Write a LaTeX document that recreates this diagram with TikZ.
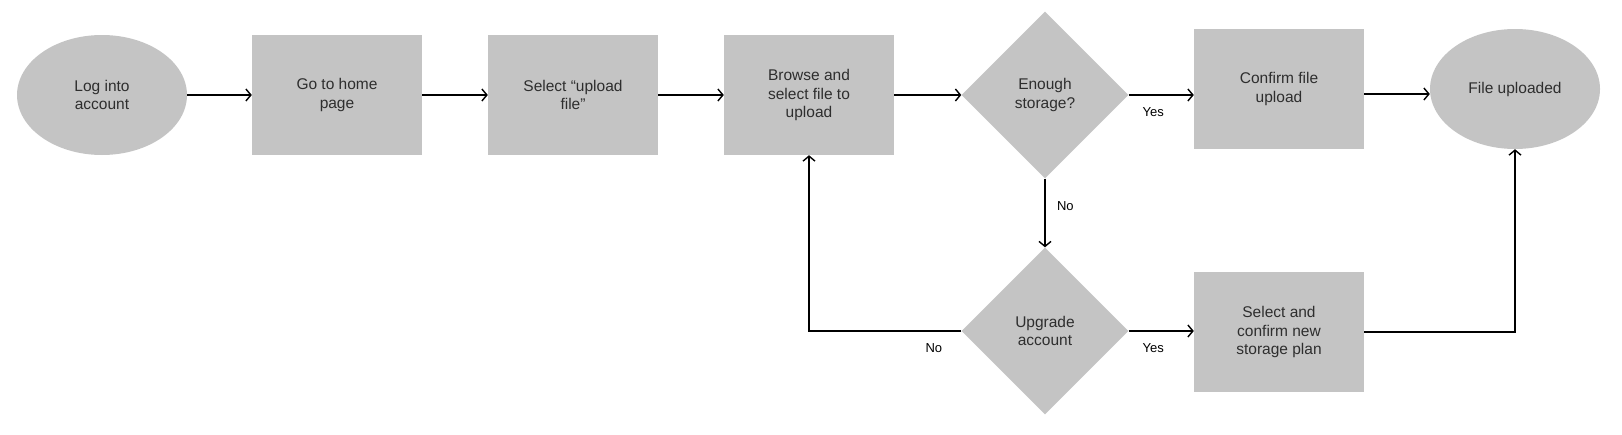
\documentclass[tikz,border=0pt]{standalone}
\usepackage{fontspec}
\setmainfont{Liberation Sans}
\usetikzlibrary{shapes.geometric,arrows.meta}
\definecolor{boxgray}{HTML}{C4C4C4}
\definecolor{txtgray}{HTML}{2E2E2E}

\begin{document}
\begin{tikzpicture}[>={Straight Barb[length=5pt,width=12pt]},x=1pt,y=-1pt,
        every node/.style={text=txtgray,align=center,font=\fontsize{15.5}{18.5}\selectfont},
        stepbox/.style={fill=boxgray,minimum width=170pt,minimum height=120pt,inner sep=0pt},
        endcap/.style={ellipse,fill=boxgray,minimum width=170pt,minimum height=120pt,inner sep=0pt},
        decide/.style={diamond,fill=boxgray,minimum width=167pt,minimum height=167pt,inner sep=0pt},
        lbl/.style={text=black,font=\fontsize{13}{15}\selectfont},
        flow/.style={->,line width=1.4pt}]
        \useasboundingbox (0,0) rectangle (1622,434);
        % top row
        \node[endcap] (login) at (102,95) {Log into\\account};
        \node[stepbox] (home) at (337,95) {Go to home\\page};
        \node[stepbox] (choose) at (573,95) {Select “upload\\file”};
        \node[stepbox] (browse) at (809,95) {Browse and\\select file to\\upload};
        \node[decide] (enough) at (1045,95) {Enough\\storage?};
        \node[stepbox] (confirm) at (1279,89) {Confirm file\\upload};
        \node[endcap] (done) at (1515,89) {File uploaded};
        % bottom row
        \node[decide] (upgrade) at (1045,331) {Upgrade\\account};
        \node[stepbox] (plan) at (1279,332) {Select and\\confirm new\\storage plan};

        \draw[flow](login)--(home);
        \draw[flow](home)--(choose);
        \draw[flow](choose)--(browse);
        \draw[flow](browse)--(enough);
        \draw[flow](enough.east)--(enough.east -| confirm.west)node[lbl,midway,below=9pt,xshift=-8pt]{Yes};
        \draw[flow](confirm.east |- 94,94)--(done.west |- 94,94);
        \draw[flow](enough.south)--(upgrade.north)node[lbl,pos=0.4,right=8pt]{No};
        \draw[flow](upgrade.east)--(upgrade.east -| plan.west)node[lbl,midway,below=9pt,xshift=-8pt]{Yes};
        \draw[flow](upgrade.west)-|(browse.south)node[lbl,pos=0.09,below=9pt]{No};
        \draw[flow](plan.east)-|(done.south);
    \end{tikzpicture}
\end{document}
